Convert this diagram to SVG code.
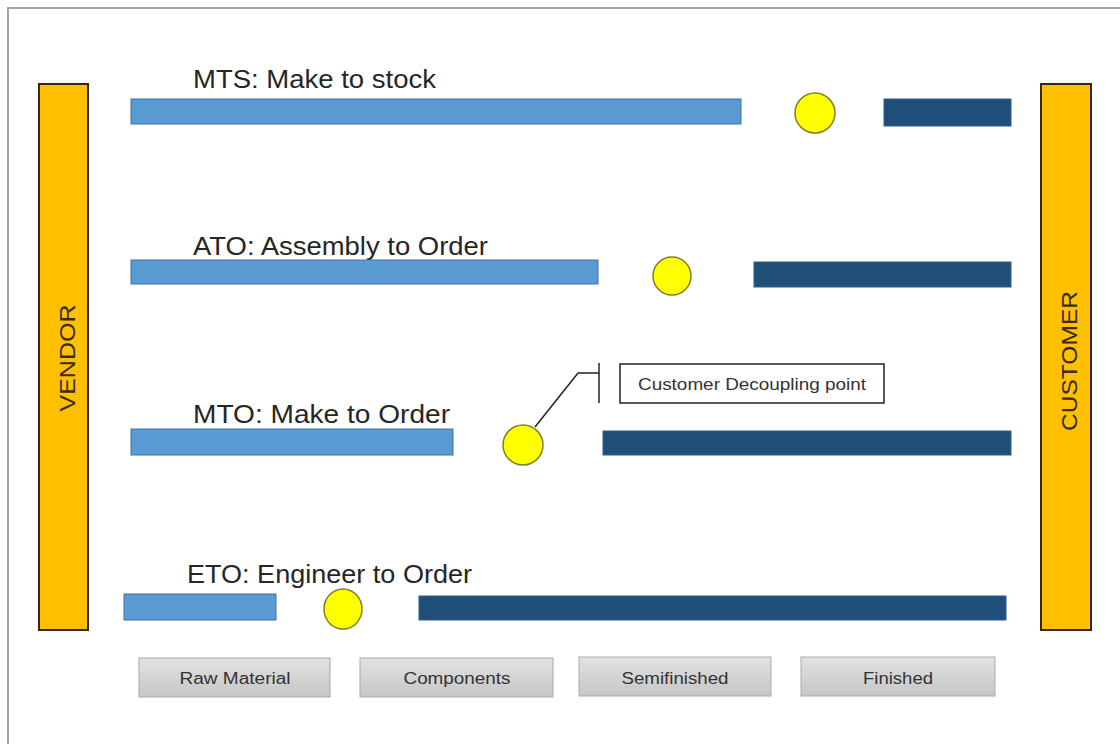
<svg xmlns="http://www.w3.org/2000/svg" width="1120" height="744" viewBox="0 0 1120 744">
<defs>
<linearGradient id="gbox" x1="0" y1="0" x2="0" y2="1">
<stop offset="0" stop-color="#e2e2e2"/>
<stop offset="1" stop-color="#c6c6c6"/>
</linearGradient>
<style>
.side{fill:#ffc000;stroke:#3a2416;stroke-width:2}
.sidet{font-family:"Liberation Sans",Arial,sans-serif;font-size:22px;fill:#3a2a10;text-anchor:middle}
.lb{fill:#5b9bd5;stroke:#41719c;stroke-width:1}
.db{fill:#1f4e79;stroke:#2e5f8a;stroke-width:1}
.dp{fill:#ffff00;stroke:#7f7f2a;stroke-width:1.5}
.title{font-family:"Liberation Sans",Arial,sans-serif;font-size:25px;fill:#262626}
.cat{fill:url(#gbox);stroke:#a9a9a9;stroke-width:1}
.catt{font-family:"Liberation Sans",Arial,sans-serif;font-size:16px;fill:#333;text-anchor:middle}
.conn{fill:none;stroke:#222;stroke-width:1.5}
</style>
</defs>
<rect x="0" y="0" width="1120" height="744" fill="#ffffff"/>
<path d="M8,744 V8 H1120" fill="none" stroke="#a6a6a6" stroke-width="2"/>

<g id="vendor">
<rect class="side" x="39" y="84" width="49" height="546"/>
<text class="sidet" x="75" y="358" transform="rotate(-90 75 358)" textLength="107" lengthAdjust="spacingAndGlyphs">VENDOR</text>
</g>
<g id="customer">
<rect class="side" x="1041" y="84" width="50" height="546"/>
<text class="sidet" x="1077" y="361" transform="rotate(-90 1077 361)" textLength="140" lengthAdjust="spacingAndGlyphs">CUSTOMER</text>
</g>

<g id="mts">
<text class="title" x="193" y="88" textLength="243" lengthAdjust="spacingAndGlyphs">MTS: Make to stock</text>
<rect class="lb" x="131" y="99" width="610" height="25"/>
<rect class="db" x="884" y="99" width="127" height="27"/>
</g>
<g id="mts-point"><circle class="dp" cx="815" cy="113" r="20"/></g>

<g id="ato">
<text class="title" x="193" y="255" textLength="295" lengthAdjust="spacingAndGlyphs">ATO: Assembly to Order</text>
<rect class="lb" x="131" y="260" width="467" height="24"/>
<rect class="db" x="754" y="262" width="257" height="25"/>
</g>
<g id="ato-point"><circle class="dp" cx="672" cy="276" r="19"/></g>

<g id="mto">
<text class="title" x="193" y="423" textLength="257" lengthAdjust="spacingAndGlyphs">MTO: Make to Order</text>
<rect class="lb" x="131" y="429" width="322" height="26"/>
<rect class="db" x="603" y="431" width="408" height="24"/>
</g>
<g id="mto-point"><circle class="dp" cx="523" cy="445" r="20"/></g>

<g id="eto">
<text class="title" x="187" y="583" textLength="285" lengthAdjust="spacingAndGlyphs">ETO: Engineer to Order</text>
<rect class="lb" x="124" y="594" width="152" height="26"/>
<rect class="db" x="419" y="596" width="587" height="24"/>
</g>
<g id="eto-point"><ellipse class="dp" cx="343" cy="609" rx="19" ry="20"/></g>

<g id="callout">
<rect x="620" y="364" width="264" height="39" fill="#ffffff" stroke="#222" stroke-width="1.5"/>
<text class="catt" x="752" y="390" font-size="15" textLength="228" lengthAdjust="spacingAndGlyphs">Customer Decoupling point</text>
</g>

<g id="connectors">
<path class="conn" d="M535,427 L578,373 H599"/>
<path class="conn" d="M599,363 V403"/>
</g>

<g id="raw-material">
<rect class="cat" x="139" y="658" width="191" height="39"/>
<text class="catt" x="235" y="684" textLength="111" lengthAdjust="spacingAndGlyphs">Raw Material</text>
</g>
<g id="components">
<rect class="cat" x="360" y="658" width="193" height="39"/>
<text class="catt" x="457" y="684" textLength="107" lengthAdjust="spacingAndGlyphs">Components</text>
</g>
<g id="semifinished">
<rect class="cat" x="579" y="657" width="192" height="39"/>
<text class="catt" x="675" y="684" textLength="107" lengthAdjust="spacingAndGlyphs">Semifinished</text>
</g>
<g id="finished">
<rect class="cat" x="801" y="657" width="194" height="39"/>
<text class="catt" x="898" y="684" textLength="70" lengthAdjust="spacingAndGlyphs">Finished</text>
</g>
</svg>
